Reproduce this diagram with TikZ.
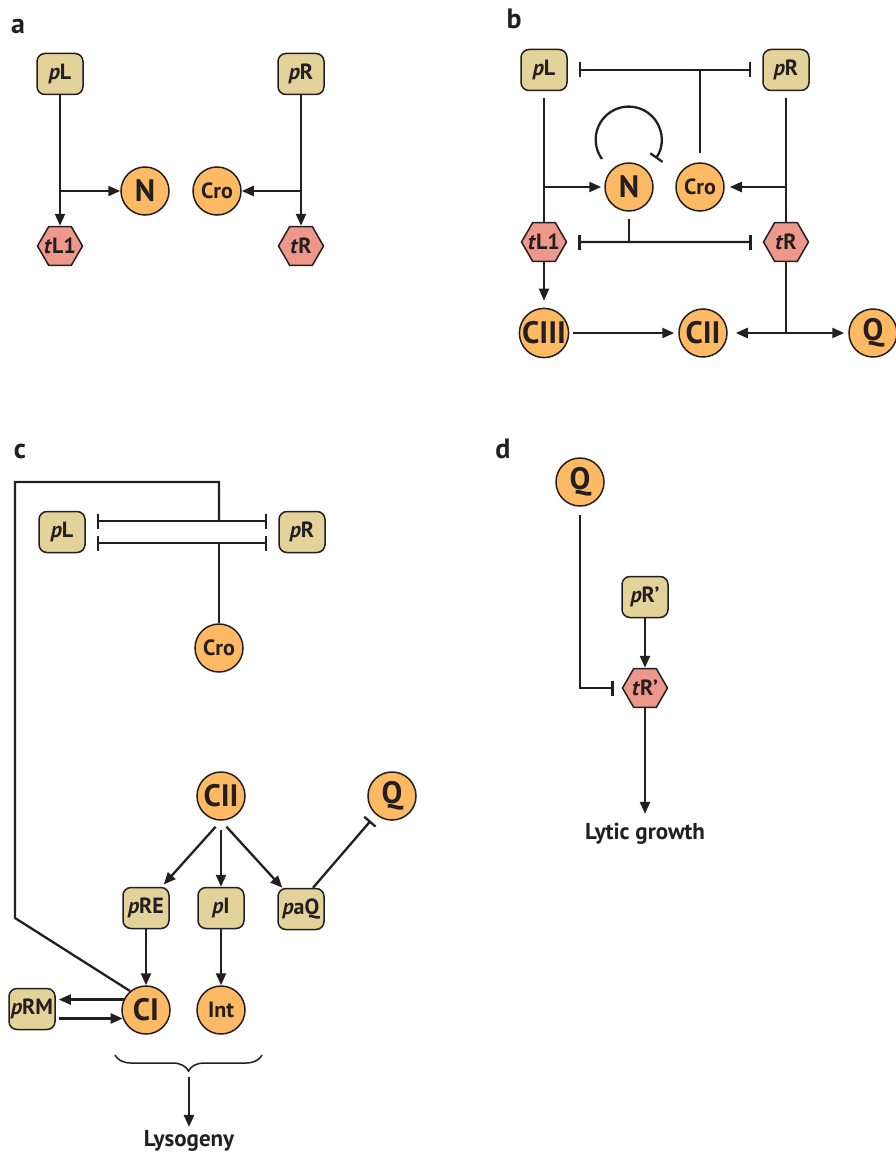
\documentclass[tikz,border=0pt]{standalone}
\usepackage{fontspec}
\setmainfont{PT Sans}
\usetikzlibrary{arrows.meta,shapes.geometric,decorations.pathreplacing}

\definecolor{boxc}{RGB}{228,210,155}
\definecolor{protc}{RGB}{253,185,99}
\definecolor{termc}{RGB}{237,152,138}
\definecolor{linec}{RGB}{35,31,32}

% keeps the hexagons at their set size
\newcommand{\hexlabel}[1]{\makebox[0pt]{#1}}

\tikzset{
    promoter/.style={draw=linec, line width=1.5pt, fill=boxc, rounded corners=8pt,
        minimum width=46pt, minimum height=41pt, inner sep=0pt, text=linec,
        font=\fontsize{22}{24}\selectfont\bfseries},
    protein/.style={circle, draw=linec, line width=1.5pt, fill=protc, minimum size=48pt,
        inner sep=0pt, text=linec, font=\fontsize{31}{33}\selectfont\bfseries},
    smallprotein/.style={protein, font=\fontsize{22}{24}\selectfont\bfseries},
    terminator/.style={regular polygon, regular polygon sides=6, draw=linec, line width=1.5pt,
        fill=termc, minimum size=45pt, inner sep=0pt, text=linec,
        font=\fontsize{22}{24}\selectfont\bfseries},
    panel/.style={font=\fontsize{28}{30}\selectfont\bfseries, text=linec},
    outcome/.style={font=\fontsize{23}{25}\selectfont\bfseries, text=linec},
    link/.style={draw=linec, line width=2.3pt},
    act/.style={link, -{Triangle[length=12pt,width=10pt]}},
    rep/.style={link, -{Bar[width=15pt]}},
    reptwo/.style={link, {Bar[width=15pt]}-{Bar[width=15pt]}, shorten <=11pt, shorten >=11pt},
    bracket/.style={link, line width=1.5pt, decorate, decoration={brace, mirror, amplitude=16pt}}
}

\begin{document}
\begin{tikzpicture}[x=1pt,y=1pt]
        \useasboundingbox (0,0) rectangle (896,-1153);

        % Panel a
        \node[panel] (la) at (18,-26) {a};
        \node[promoter] (pLa) at (60,-74) {\textit{p}L};
        \node[promoter] (pRa) at (301,-74) {\textit{p}R};
        \node[protein] (Na) at (145,-191) {N};
        \node[smallprotein] (Croa) at (217,-191) {Cro};
        \node[terminator] (tLa) at (60,-246) {\hexlabel{\textit{t}L1}};
        \node[terminator] (tRa) at (301,-246) {\hexlabel{\textit{t}R}};

        \draw[act] (pLa) -- (tLa);
        \draw[act] (pLa |- Na) -- (Na);
        \draw[act] (pRa) -- (tRa);
        \draw[act] (pRa |- Croa) -- (Croa);

        % Panel b
        \node[panel] (lb) at (514,-19) {b};
        \node[promoter] (pLb) at (544,-70) {\textit{p}L};
        \node[promoter] (pRb) at (786,-70) {\textit{p}R};
        \node[protein] (Nb) at (629,-187) {N};
        \node[smallprotein] (Crob) at (700,-187) {Cro};
        \node[terminator] (tLb) at (544,-242) {\hexlabel{\textit{t}L1}};
        \node[terminator] (tRb) at (786,-242) {\hexlabel{\textit{t}R}};
        \node[protein] (CIIIb) at (544,-333) {CIII};
        \node[protein] (CIIb) at (703,-333) {CII};
        \node[protein] (Qb) at (873,-333) {Q};

        \draw[reptwo] (pLb) -- (pRb);
        \draw[link, shorten <=9pt] (Crob) -- (Crob |- pLb);
        \draw[link, shorten <=7pt] (pLb) -- (tLb);
        \draw[act, shorten >=3pt] (pLb |- Nb) -- (Nb);
        \draw[link, shorten <=7pt] (pRb) -- (tRb);
        \draw[act, shorten >=5pt] (pRb |- Crob) -- (Crob);
        \draw[rep] ([shift={(-27,28)}]Nb.center) arc[start angle=216, end angle=-35, radius=33];
        \draw[reptwo] (tLb) -- (tRb);
        \draw[link, shorten <=7pt] (Nb) -- (Nb |- tLb);
        \draw[act, shorten >=7pt] (tLb) -- (CIIIb);
        \draw[act, shorten <=4pt, shorten >=4pt] (CIIIb) -- (CIIb);
        \draw[link] (tRb) -- (tRb |- Qb);
        \draw[act, shorten >=8pt] (tRb |- Qb) -- (CIIb);
        \draw[act, shorten >=4pt] (tRb |- Qb) -- (Qb);

        % Panel c
        \node[panel] (lc) at (20,-451) {c};
        \node[promoter] (pLc) at (62,-532) {\textit{p}L};
        \node[promoter] (pRc) at (302,-532) {\textit{p}R};
        \node[smallprotein] (Croc) at (219,-648) {Cro};
        \node[protein] (CIIc) at (221,-796) {CII};
        \node[protein] (Qc) at (392,-796) {Q};
        \node[promoter] (pREc) at (146,-908) {\textit{p}RE};
        \node[promoter] (pIc) at (221,-908) {\textit{p}I};
        \node[promoter] (paQc) at (301,-909) {\textit{p}aQ};
        \node[protein] (CIc) at (146,-1010) {CI};
        \node[smallprotein] (Intc) at (221,-1010) {Int};
        \node[promoter] (pRMc) at (32,-1009) {\textit{p}RM};
        \node[outcome] (lyso) at (189,-1141) {Lysogeny};

        \coordinate (crojoin) at (219,-543);
        \coordinate (upjoin) at (219,-521);
        \coordinate (loopa) at (15,-918);
        \coordinate (loopb) at (15,-482);
        \coordinate (bracetip) at (189,-1077);

        \draw[reptwo] ([yshift=11pt]pLc.east) -- ([yshift=11pt]pRc.west);
        \draw[reptwo] ([yshift=-11pt]pLc.east) -- ([yshift=-11pt]pRc.west);
        \draw[link] (Croc) -- (crojoin);
        \draw[link] (CIc.130) -- (loopa) -- (loopb) -| (upjoin);

        \draw[act, shorten <=8pt, shorten >=3pt] (CIIc.south) -- ([xshift=-8pt]pREc.north east);
        \draw[act, shorten <=9pt] (CIIc) -- (pIc);
        \draw[act, shorten <=8pt] (CIIc.south) -- ([xshift=5pt]paQc.north west);
        \draw[rep, shorten >=8pt] ([xshift=12pt]paQc.north) -- (Qc);
        \draw[act] (pREc) -- (CIc);
        \draw[act] (pIc) -- (Intc);
        \draw[act, shorten >=3pt] (CIc.155) -- (CIc.155 -| pRMc.east);
        \draw[act, shorten <=3pt] (pRMc.east |- CIc.200) -- (CIc.200);

        \draw[bracket] (115,-1055) -- (262,-1055);
        \draw[act] (bracetip) -- (lyso);

        % Panel d
        \node[panel] (ld) at (503,-449) {d};
        \node[protein] (Qd) at (580,-482) {Q};
        \node[promoter] (pRd) at (645,-597) {\textit{p}R’};
        \node[terminator] (tRd) at (645,-688) {\hexlabel{\textit{t}R’}};
        \node[outcome] (lytic) at (645,-834) {Lytic growth};

        \draw[rep, shorten <=8pt, shorten >=8pt] (Qd) |- (tRd);
        \draw[act] (pRd) -- (tRd);
        \draw[act, shorten >=6pt] (tRd) -- (lytic);
    \end{tikzpicture}
\end{document}
